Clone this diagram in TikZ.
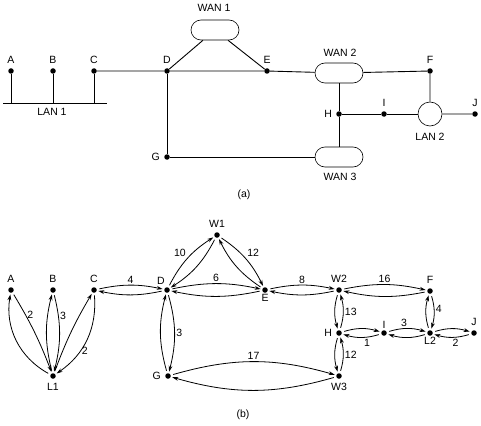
\documentclass[tikz,border=0pt]{standalone}
\usepackage{fontspec}
\setmainfont{Liberation Sans}
\usetikzlibrary{arrows.meta}

\tikzset{
  dot/.style={circle, fill, inner sep=0pt, minimum size=5.5pt},
  wan/.style={draw, line width=0.6pt, rounded corners=10pt, minimum width=48pt, minimum height=20pt, inner sep=0pt},
  lan/.style={draw, line width=0.6pt, circle, minimum size=24pt, inner sep=0pt},
  link/.style={line width=0.9pt},
  hop/.style={-{Stealth[length=6pt,width=3.8pt]}, line width=0.8pt, shorten <=2.5pt, shorten >=1.5pt},
  lbl/.style={font=\fontsize{10.5}{12}\selectfont, inner sep=1.5pt},
  every label/.style={lbl},
  label distance=2.5pt,
}

\begin{document}
\begin{tikzpicture}[x=1pt, y=-1pt]
\useasboundingbox (0,0) rectangle (481,425);

% (a) the network
{
\node[dot, label=above:A] (A) at (11,71) {};
\node[dot, label=above:B] (B) at (53,71) {};
\node[dot, label=above:C] (C) at (94,71) {};
\node[dot, label=above:D] (D) at (167,71) {};
\node[dot, label=above:E] (E) at (267,71) {};
\node[dot, label=above:F] (F) at (430,71) {};
\node[dot, label=left:H] (H) at (339,114) {};
\node[dot, label=above:I] (I) at (384,114) {};
\node[dot, label=above:J] (J) at (475,114) {};
\node[dot, label=left:G] (G) at (167,157) {};

\node[wan] (wan1) at (215,30) {};
\node[wan] (wan2) at (339,73) {};
\node[wan] (wan3) at (339,157) {};
\node[lan] (lan2) at (430,114) {};

\coordinate (lan1w) at (3,103);
\coordinate (lan1e) at (107,103);
}

% labellings
{
\node[lbl] (twan1) at (214,8) {WAN 1};
\node[lbl] (twan2) at (340,53) {WAN 2};
\node[lbl] (twan3) at (340,177) {WAN 3};
\node[lbl] (tlan1) at (52,112) {LAN 1};
\node[lbl] (tlan2) at (430,137) {LAN 2};
\node[lbl] (capa) at (244,195) {(a)};
}

% lines
{
\draw[link] (lan1w) -- (lan1e);
\draw[link] (A) -- (A |- lan1w);
\draw[link] (B) -- (B |- lan1w);
\draw[link] (C) -- (C |- lan1w);
\draw[link] (C) -- (D) -- (E) -- (wan2) -- (F) -- (lan2) -- (J);
\draw[link] (D) -- (wan1) -- (E);
\draw[link] (D) -- (G) -- (wan3) -- (H) -- (wan2);
\draw[link] (H) -- (I) -- (lan2);
}

% (b) the graph
{
\node[dot, label=above:A] (bA) at (11,290) {};
\node[dot, label=above:B] (bB) at (53,290) {};
\node[dot, label=above:C] (bC) at (94,290) {};
\node[dot, label={[label distance=1pt]100:D}] (bD) at (167,290) {};
\node[dot, label=above:W1] (bW1) at (217,235) {};
\node[dot, label={[label distance=0pt]below:E}] (bE) at (265,290) {};
\node[dot, label=above:W2] (bW2) at (339,290) {};
\node[dot, label=above:F] (bF) at (430,291) {};
\node[dot, label=left:H] (bH) at (339,333) {};
\node[dot, label={[label distance=0pt]above:I}] (bI) at (384,333) {};
\node[dot, label={[label distance=0pt]below:L2}] (bL2) at (430,333) {};
\node[dot, label=above:J] (bJ) at (474,333) {};
\node[dot, label=below:L1] (bL1) at (53,376) {};
\node[dot, label=left:G] (bG) at (168,376) {};
\node[dot, label=below:W3] (bW3) at (339,376) {};

\node[lbl] (capb) at (243,415) {(b)};
}

% arrows
{
\draw[hop] (bA) to[bend left=5] node[lbl, right, pos=0.27] {2} (bL1);
\draw[hop] (bL1) to[bend left=35] (bA);
\draw[hop] (bB) to[bend left=14] node[lbl, right, pos=0.27] {3} (bL1);
\draw[hop] (bL1) to[bend left=14] (bB);
\draw[hop] (bC) to[bend left=30] node[lbl, right, pos=0.65] {2} (bL1);
\draw[hop] (bL1) to[bend left=5] (bC);

\draw[hop] (bC) to[bend left=12] node[lbl, above] {4} (bD);
\draw[hop] (bD) to[bend left=12] (bC);
\draw[hop] (bD) to[bend left=15] node[lbl, above left] {10} (bW1);
\draw[hop] (bW1) to[bend left=15] (bD);
\draw[hop] (bW1) to[bend left=15] node[lbl, above right] {12} (bE);
\draw[hop] (bE) to[bend left=15] (bW1);
\draw[hop] (bD) to[bend left=12] node[lbl, above] {6} (bE);
\draw[hop] (bE) to[bend left=12] (bD);
\draw[hop] (bD) to[bend left=15] node[lbl, right] {3} (bG);
\draw[hop] (bG) to[bend left=15] (bD);
\draw[hop] (bG) to[bend left=16] node[lbl, above] {17} (bW3);
\draw[hop] (bW3) to[bend left=16] (bG);

\draw[hop] (bE) to[bend left=12] node[lbl, above] {8} (bW2);
\draw[hop] (bW2) to[bend left=12] (bE);
\draw[hop] (bW2) to[bend left=12] node[lbl, above] {16} (bF);
\draw[hop] (bF) to[bend left=12] (bW2);
\draw[hop] (bW2) to[bend right=17] (bH);
\draw[hop] (bH) to[bend right=17] node[lbl, right] {13} (bW2);
\draw[hop] (bH) to[bend right=17] (bW3);
\draw[hop] (bW3) to[bend right=17] node[lbl, right] {12} (bH);

\draw[hop] (bH) to[bend left=17] (bI);
\draw[hop] (bI) to[bend left=17] node[lbl, below, pos=0.35] {1} (bH);
\draw[hop] (bI) to[bend left=17] node[lbl, above, pos=0.42] {3} (bL2);
\draw[hop] (bL2) to[bend left=17] (bI);
\draw[hop] (bL2) to[bend left=17] (bJ);
\draw[hop] (bJ) to[bend left=17] node[lbl, below, pos=0.4] {2} (bL2);
\draw[hop] (bF) to[bend left=17] node[lbl, right, pos=0.4] {4} (bL2);
\draw[hop] (bL2) to[bend left=17] (bF);
}
\end{tikzpicture}
\end{document}
